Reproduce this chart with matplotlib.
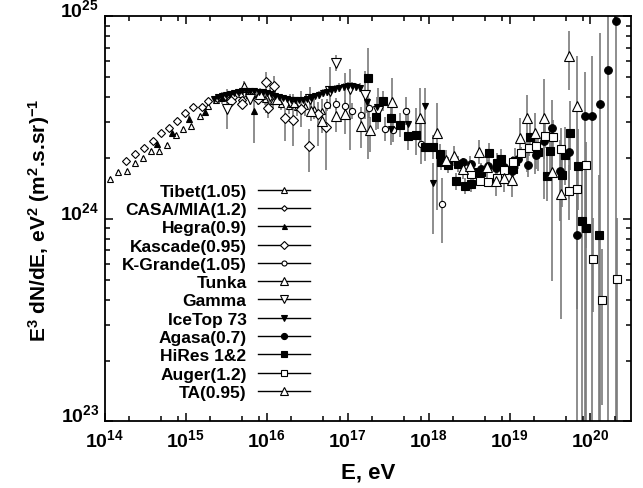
import numpy as np
import matplotlib
matplotlib.use('Agg')
import matplotlib.pyplot as plt
from matplotlib.lines import Line2D
from matplotlib.ticker import FixedLocator, LogLocator, NullFormatter

plt.rcParams['font.family'] = 'Liberation Sans'
plt.rcParams['font.weight'] = 'bold'
plt.rcParams['mathtext.fontset'] = 'custom'
plt.rcParams['mathtext.rm'] = 'Liberation Sans:bold'
plt.rcParams['mathtext.bf'] = 'Liberation Sans:bold'
plt.rcParams['mathtext.it'] = 'Liberation Sans:bold'
plt.rcParams['mathtext.default'] = 'bf'

# log10(E/eV), flux E^3 dN/dE in units of 1e24, error half-widths in dex (lo, hi)
tibet_logE = [14.07, 14.16, 14.27, 14.37, 14.47, 14.57, 14.67, 14.77, 14.88, 14.97, 15.07, 15.18, 15.28,
              15.38, 15.48, 15.58, 15.68, 15.78, 15.88, 15.98, 16.08, 16.18, 16.28, 16.38, 16.48, 16.58, 16.68]
tibet_F = [1.58, 1.71, 1.73, 1.88, 1.99, 2.16, 2.17, 2.32, 2.60, 2.78, 2.87, 3.21, 3.62,
           3.85, 4.00, 4.10, 4.15, 4.10, 4.00, 3.90, 3.80, 3.70, 3.62, 3.55, 3.60, 3.50, 3.40]
tibet_err = [0.01] * 13 + [0.02, 0.02, 0.02, 0.02, 0.02, 0.03, 0.03, 0.03, 0.03, 0.04, 0.04, 0.05, 0.05, 0.06]

casa_logE = [14.26, 14.37, 14.48, 14.60, 14.70, 14.79, 14.89, 14.99, 15.09, 15.20, 15.28, 15.39, 15.49, 15.59, 15.69]
casa_F = [1.94, 2.08, 2.24, 2.42, 2.65, 2.81, 3.04, 3.33, 3.56, 3.56, 3.83, 3.95, 4.05, 4.00, 3.85]
casa_err = [0.01] * 11 + [0.02, 0.02, 0.03, 0.03]

hegra_logE = [14.64, 14.83, 15.04, 15.24, 15.45, 15.85]
hegra_F = [2.33, 2.65, 3.11, 3.36, 3.94, 3.42]
hegra_lo = [0.01, 0.01, 0.02, 0.02, 0.03, 0.16]
hegra_hi = [0.01, 0.01, 0.02, 0.02, 0.03, 0.07]

kascade_logE = [15.56, 15.69, 15.79, 15.89, 15.99, 16.02, 16.09, 16.23, 16.33, 16.43, 16.52, 16.63, 16.73]
kascade_F = [3.83, 3.69, 4.05, 3.91, 4.72, 3.53, 4.51, 3.14, 3.09, 3.49, 2.30, 3.30, 2.83]
kascade_lo = [0.02, 0.02, 0.03, 0.03, 0.15, 0.05, 0.06, 0.11, 0.13, 0.09, 0.13, 0.16, 0.21]
kascade_hi = [0.02, 0.02, 0.03, 0.03, 0.05, 0.05, 0.05, 0.05, 0.06, 0.09, 0.08, 0.06, 0.12]

kgrande_logE = [16.74, 16.86, 16.97, 17.06, 17.16, 17.27, 17.46, 17.56, 17.72, 17.91, 18.16]
kgrande_F = [3.65, 3.69, 3.60, 3.40, 3.26, 3.53, 2.77, 2.76, 3.42, 2.34, 1.18]
kgrande_lo = [0.03, 0.03, 0.03, 0.04, 0.04, 0.05, 0.06, 0.06, 0.07, 0.10, 0.19]
kgrande_hi = [0.03, 0.03, 0.03, 0.04, 0.04, 0.05, 0.06, 0.06, 0.07, 0.10, 0.13]

tunka_logE = [15.72, 15.92, 16.13, 16.33, 16.55, 16.68, 16.86, 16.97, 17.17, 17.28, 17.55, 17.90, 18.10]
tunka_F = [4.48, 4.14, 3.91, 3.78, 3.41, 3.05, 3.22, 3.30, 2.87, 2.76, 3.78, 3.15, 2.65]
tunka_lo = [0.03, 0.03, 0.03, 0.04, 0.05, 0.06, 0.08, 0.10, 0.11, 0.11, 0.12, 0.14, 0.38]
tunka_hi = [0.03, 0.03, 0.03, 0.04, 0.05, 0.06, 0.08, 0.20, 0.04, 0.06, 0.12, 0.15, 0.15]

gamma_logE = [15.51, 15.79, 16.04, 16.29, 16.54, 16.78, 16.86, 17.03, 17.21, 17.37]
gamma_F = [3.49, 3.91, 4.05, 3.78, 3.91, 4.28, 5.86, 4.38, 4.09, 3.42]
gamma_lo = [0.10, 0.03, 0.04, 0.04, 0.06, 0.09, 0.04, 0.30, 0.12, 0.09]
gamma_hi = [0.10, 0.03, 0.04, 0.04, 0.06, 0.12, 0.04, 0.10, 0.12, 0.11]

icetop_logE = [15.35, 15.40, 15.45, 15.50, 15.55, 15.60, 15.65, 15.70, 15.75, 15.80, 15.85, 15.90, 15.95,
               16.00, 16.05, 16.10, 16.15, 16.20, 16.25, 16.30, 16.35, 16.40, 16.45, 16.50, 16.55, 16.60,
               16.65, 16.70, 16.75, 16.80, 16.85, 16.90, 16.95, 17.00, 17.05, 17.10, 17.15,
               17.24, 17.36, 17.54, 17.74, 17.95, 18.05]
icetop_F = [3.91, 3.98, 4.05, 4.10, 4.14, 4.19, 4.23, 4.26, 4.28, 4.29, 4.28, 4.25, 4.22,
            4.18, 4.13, 4.06, 4.00, 3.95, 3.91, 3.88, 3.86, 3.86, 3.87, 3.91, 3.96, 4.03,
            4.10, 4.17, 4.25, 4.32, 4.39, 4.45, 4.49, 4.52, 4.53, 4.50, 4.45,
            3.76, 3.56, 2.78, 2.94, 3.60, 1.50]
icetop_lo = [0.01] * 26 + [0.02] * 11 + [0.05, 0.05, 0.08, 0.08, 0.13, 0.25]
icetop_hi = [0.01] * 26 + [0.02] * 11 + [0.05, 0.05, 0.08, 0.08, 0.09, 0.10]

agasa_logE = [18.43, 18.53, 18.65, 18.73, 18.83, 18.93, 19.03, 19.11, 19.23, 19.33,
              19.43, 19.52, 19.62, 19.73, 19.83, 19.93, 20.02, 20.12, 20.22, 20.32]
agasa_F = [1.90, 1.87, 1.76, 1.82, 1.78, 1.80, 1.73, 1.98, 1.85, 2.07,
           2.43, 2.81, 1.73, 2.13, 0.83, 3.21, 3.21, 3.69, 5.41, 9.45]
agasa_lo = [0.02, 0.02, 0.03, 0.03, 0.03, 0.04, 0.04, 0.05, 0.06, 0.07,
            0.09, 0.20, 0.25, 0.23, 3.0, 3.0, 3.0, 3.0, 3.0, 3.0]
agasa_hi = [0.02, 0.02, 0.03, 0.03, 0.03, 0.04, 0.04, 0.05, 0.06, 0.07,
            0.09, 0.14, 0.15, 0.10, 0.20, 0.22, 0.30, 0.35, 0.30, 0.10]

hires_logE = [17.25, 17.35, 17.44, 17.54, 17.65, 17.75, 17.85, 17.95, 18.05, 18.14, 18.15, 18.24, 18.34,
              18.36, 18.45, 18.53, 18.55, 18.65, 18.75, 18.84, 18.90, 19.04, 19.07, 19.25, 19.35, 19.46,
              19.50, 19.65, 19.68, 19.75, 19.85, 19.89, 19.94, 20.10]
hires_F = [4.94, 3.17, 3.83, 3.14, 2.91, 2.58, 2.60, 2.27, 2.27, 2.09, 1.92, 1.85, 1.53,
           1.87, 1.46, 1.49, 1.70, 1.70, 2.12, 1.88, 1.98, 1.76, 1.94, 2.54, 2.13, 1.62,
           2.16, 1.65, 2.07, 2.64, 1.83, 0.98, 0.90, 0.83]
hires_lo = [0.40, 0.06, 0.05, 0.06, 0.06, 0.07, 0.10, 0.07, 0.06, 0.05, 0.04, 0.04, 0.04,
            0.04, 0.04, 0.04, 0.04, 0.04, 0.05, 0.05, 0.05, 0.06, 0.06, 0.08, 0.09, 0.12,
            0.12, 0.16, 0.15, 0.18, 0.22, 3.0, 3.0, 3.0]
hires_hi = [0.15, 0.06, 0.05, 0.06, 0.06, 0.07, 0.13, 0.07, 0.06, 0.05, 0.04, 0.04, 0.04,
            0.04, 0.04, 0.04, 0.04, 0.04, 0.05, 0.05, 0.05, 0.06, 0.06, 0.08, 0.09, 0.12,
            0.12, 0.14, 0.14, 0.16, 0.18, 0.25, 0.28, 0.30]

auger_logE = [18.53, 18.63, 18.74, 18.84, 18.93, 19.04, 19.14, 19.24, 19.33,
              19.44, 19.54, 19.64, 19.74, 19.83, 19.94, 20.03, 20.14, 20.33]
auger_F = [1.66, 1.54, 1.52, 1.60, 1.74, 1.90, 2.12, 2.23, 2.30,
           2.58, 2.55, 2.22, 1.37, 1.41, 1.85, 0.634, 0.399, 0.505]
auger_lo = [0.02, 0.02, 0.02, 0.02, 0.03, 0.03, 0.03, 0.04, 0.05,
            0.06, 0.08, 0.10, 0.14, 0.14, 0.41, 0.26, 0.52, 3.0]
auger_hi = [0.02, 0.02, 0.02, 0.02, 0.03, 0.03, 0.03, 0.04, 0.05,
            0.06, 0.08, 0.10, 0.13, 0.13, 0.11, 0.20, 0.25, 0.30]

ta_logE = [18.22, 18.31, 18.42, 18.51, 18.62, 18.72, 18.83, 18.93, 19.03,
           19.13, 19.22, 19.32, 19.42, 19.52, 19.63, 19.73, 19.83]
ta_F = [1.95, 2.05, 1.76, 1.83, 2.14, 1.80, 1.53, 1.60, 1.55,
        2.51, 3.16, 2.64, 3.15, 1.71, 1.33, 6.39, 3.60]
ta_lo = [0.05, 0.05, 0.05, 0.05, 0.06, 0.06, 0.07, 0.07, 0.08,
         0.12, 0.27, 0.20, 0.40, 0.54, 0.62, 0.17, 1.0]
ta_hi = [0.05, 0.05, 0.05, 0.05, 0.06, 0.06, 0.07, 0.07, 0.08,
         0.10, 0.11, 0.10, 0.19, 0.20, 0.20, 0.12, 0.25]

# label, logE, F, err_lo, err_hi, marker, size, filled
series = [
    ('Tibet(1.05)', tibet_logE, tibet_F, tibet_err, tibet_err, '^', 5.0, False),
    ('CASA/MIA(1.2)', casa_logE, casa_F, casa_err, casa_err, 'D', 3.6, False),
    ('Hegra(0.9)', hegra_logE, hegra_F, hegra_lo, hegra_hi, '^', 4.5, True),
    ('Kascade(0.95)', kascade_logE, kascade_F, kascade_lo, kascade_hi, 'D', 5.0, False),
    ('K-Grande(1.05)', kgrande_logE, kgrande_F, kgrande_lo, kgrande_hi, 'o', 4.5, False),
    ('Tunka', tunka_logE, tunka_F, tunka_lo, tunka_hi, '^', 7.0, False),
    ('Gamma', gamma_logE, gamma_F, gamma_lo, gamma_hi, 'v', 7.0, False),
    ('IceTop 73', icetop_logE, icetop_F, icetop_lo, icetop_hi, 'v', 5.0, True),
    ('Agasa(0.7)', agasa_logE, agasa_F, agasa_lo, agasa_hi, 'o', 5.5, True),
    ('HiRes 1&2', hires_logE, hires_F, hires_lo, hires_hi, 's', 5.5, True),
    ('Auger(1.2)', auger_logE, auger_F, auger_lo, auger_hi, 's', 5.5, False),
    ('TA(0.95)', ta_logE, ta_F, ta_lo, ta_hi, '^', 7.0, False),
]

fig = plt.figure(figsize=(6.43, 4.89), dpi=100)
ax = fig.add_axes([0.1628, 0.136, 0.8185, 0.8286])

handles = []
for label, logE, F, lo, hi, marker, ms, filled in series:
    E = 10 ** np.array(logE)
    y = np.array(F) * 1e24
    yerr = [y * (1 - 10 ** -np.array(lo)), y * (10 ** np.array(hi) - 1)]
    ax.errorbar(E, y, yerr=yerr, fmt='none', ecolor='#7a7a7a', elinewidth=1.2, capsize=0, zorder=1)
    ax.plot(E, y, linestyle='none', marker=marker, ms=ms, mec='black', mew=0.8,
            mfc='black' if filled else 'white', zorder=3)
    handles.append(Line2D([], [], color='black', lw=1.0, marker=marker, ms=ms * 0.8, mec='black', mew=0.8,
                          mfc='black' if filled else 'white', label=label))

ax.set_xscale('log')
ax.set_yscale('log')
ax.set_xlim(1e14, 10 ** 20.5)
ax.set_ylim(1e23, 1e25)

ax.xaxis.set_major_locator(FixedLocator([10.0 ** k for k in range(14, 21)]))
ax.set_xticklabels([r'$10^{%d}$' % k for k in range(14, 21)])
ax.xaxis.set_minor_locator(LogLocator(base=10, subs=(2, 5, 8), numticks=20))
ax.xaxis.set_minor_formatter(NullFormatter())
ax.yaxis.set_major_locator(FixedLocator([1e23, 1e24, 1e25]))
ax.set_yticklabels([r'$10^{23}$', r'$10^{24}$', r'$10^{25}$'])
ax.yaxis.set_minor_locator(LogLocator(base=10, subs=np.arange(2, 10), numticks=20))
ax.yaxis.set_minor_formatter(NullFormatter())

ax.tick_params(which='both', direction='in', top=True, right=True, width=1.1, labelsize=14)
ax.tick_params(which='major', length=6)
ax.tick_params(which='minor', length=3.5)
ax.tick_params(axis='x', pad=5)
ax.tick_params(axis='y', pad=4)
for lab in ax.get_yticklabels():
    lab.set_verticalalignment('baseline')
for sp in ax.spines.values():
    sp.set_linewidth(1.3)

ax.set_xlabel('E, eV', fontsize=16, fontweight='bold', labelpad=8)
ax.set_ylabel(r'E$^{3}$ dN/dE, eV$^{2}$ (m$^{2}$.s.sr)$^{-1}$', fontsize=15, fontweight='bold', labelpad=6)

ax.legend(handles=handles, loc='upper right', bbox_to_anchor=(0.39, 0.587), frameon=False,
          markerfirst=False, handlelength=3.0, handletextpad=0.65,
          labelspacing=0.18, borderpad=0, borderaxespad=0, prop={'weight': 'bold', 'size': 12.5})

fig.savefig('out.png', dpi=100)
